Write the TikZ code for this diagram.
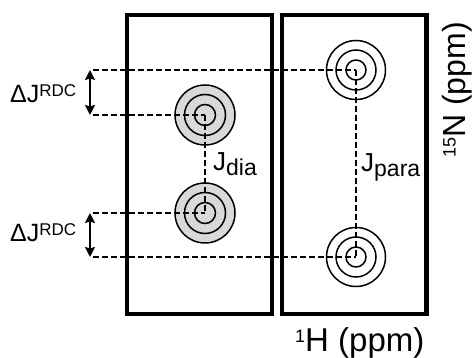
\documentclass[tikz,border=0pt]{standalone}
\usepackage{fontspec}
\setmainfont{Liberation Sans}
\usetikzlibrary{arrows.meta}
\definecolor{peakgrey}{HTML}{D9D9D9}
\begin{document}
\begin{tikzpicture}[x=1pt,y=-1pt,
  frame/.style={line width=4.5pt},
  guide/.style={line width=1.9pt, dash pattern=on 6pt off 3pt},
  ring/.style={line width=1.5pt},
  dbl/.style={line width=2.8pt, {Stealth[length=10pt,width=10pt,inset=1.5pt]}-{Stealth[length=10pt,width=10pt,inset=1.5pt]}},
  lab/.style={inner sep=0pt}]
\useasboundingbox (0,0) rectangle (472,358);
% frames
\draw[frame] (127,15) rectangle (272,314);
\draw[frame] (282,15) rectangle (426.5,314);
% peak positions
\coordinate (pA) at (205,115);
\coordinate (pB) at (205,213);
\coordinate (pC) at (356,70);
\coordinate (pD) at (356,257);
% peaks
\draw[ring, fill=peakgrey] (pA) circle[radius=30];
\draw[ring] (pA) circle[radius=20.5];
\draw[ring] (pA) circle[radius=10.5];
\draw[ring, fill=peakgrey] (pB) circle[radius=30];
\draw[ring] (pB) circle[radius=20.5];
\draw[ring] (pB) circle[radius=10.5];
\draw[ring] (pC) circle[radius=29.5];
\draw[ring] (pC) circle[radius=20];
\draw[ring] (pC) circle[radius=10];
\draw[ring] (pD) circle[radius=29.5];
\draw[ring] (pD) circle[radius=20];
\draw[ring] (pD) circle[radius=10];
% guide line ends
\coordinate (g1) at (93,70);
\coordinate (g2) at (93,115);
\coordinate (g3) at (93,213);
\coordinate (g4) at (93,257);
\draw[guide] (g1) -- (pC);
\draw[guide] (g2) -- (pA);
\draw[guide] (g3) -- (pB);
\draw[guide] (g4) -- (pD);
\draw[guide] (pA) -- (pB);
\draw[guide] (pC) -- (pD);
% arrows
\coordinate (a1) at (90,70);
\coordinate (a2) at (90,115);
\coordinate (a3) at (90,213);
\coordinate (a4) at (90,257);
\draw[dbl] (a1) -- (a2);
\draw[dbl] (a3) -- (a4);
% labels
\node[lab, anchor=base west] (rdc1) at (10,103) {\fontsize{25}{25}\selectfont ΔJ\raisebox{6.5pt}{\fontsize{17}{17}\selectfont RDC}};
\node[lab, anchor=base west] (rdc2) at (10,242) {\fontsize{25}{25}\selectfont ΔJ\raisebox{6.5pt}{\fontsize{17}{17}\selectfont RDC}};
\node[lab, anchor=base west] (jdia) at (213,171) {\fontsize{26}{26}\selectfont J\raisebox{-5pt}{\fontsize{23}{23}\selectfont dia}};
\node[lab, anchor=base west] (jpara) at (361,171.5) {\fontsize{26}{26}\selectfont J\raisebox{-5pt}{\fontsize{23}{23}\selectfont para}};
\node[lab, anchor=base west] (hax) at (295,352) {\fontsize{33}{33}\selectfont\raisebox{9.5pt}{\fontsize{18}{18}\selectfont 1}H (ppm)};
\node[lab, anchor=base west, rotate=90] (nax) at (465,158) {\fontsize{32}{32}\selectfont\raisebox{9.5pt}{\fontsize{18}{18}\selectfont 15}N (ppm)};
\end{tikzpicture}
\end{document}
